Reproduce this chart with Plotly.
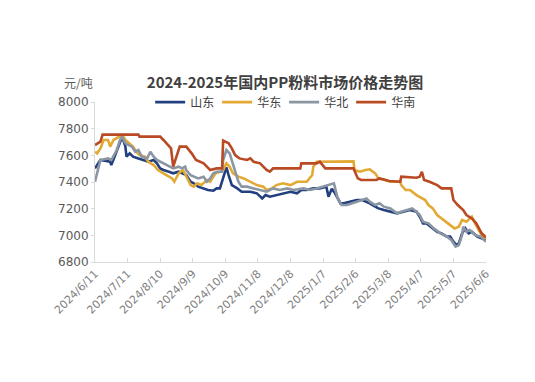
import pandas as pd
import plotly.graph_objects as go

base = pd.Timestamp("2024-06-11")

# day offsets since 2024-06-11 and prices (元/吨)
shandong_day = [0, 5, 14, 15, 18, 23, 25, 28, 29, 32, 35, 40, 45, 49, 54, 57, 60, 63, 68, 72, 77, 81, 84, 88, 91, 95,
                100, 104, 109, 112, 115, 118, 121, 123, 126, 131, 135, 143, 149, 154, 157, 161, 167, 173, 180, 186,
                190, 195, 201, 207, 213, 215, 218, 221, 226, 229, 235, 241, 246, 250, 253, 258, 261, 266, 272, 278,
                284, 290, 296, 299, 302, 305, 309, 315, 319, 324, 327, 330, 333, 335, 338, 341, 344, 347, 352, 356, 360]
shandong_val = [7502, 7565, 7552, 7527, 7590, 7690, 7740, 7665, 7590, 7615, 7590, 7577, 7565, 7552, 7565, 7540, 7502,
                7490, 7477, 7465, 7477, 7465, 7452, 7402, 7390, 7365, 7352, 7340, 7335, 7352, 7352, 7427, 7510, 7452,
                7377, 7352, 7327, 7327, 7315, 7277, 7302, 7290, 7302, 7315, 7327, 7315, 7340, 7340, 7352, 7352, 7365,
                7290, 7350, 7315, 7240, 7240, 7252, 7265, 7265, 7252, 7240, 7215, 7202, 7190, 7177, 7165, 7177, 7190,
                7177, 7140, 7090, 7090, 7065, 7027, 7015, 6990, 6990, 6952, 6927, 6940, 7015, 7052, 7015, 7027, 6990,
                6977, 6965]

huadong_day = [0, 2, 5, 8, 12, 14, 17, 22, 25, 28, 32, 35, 38, 41, 46, 49, 54, 58, 63, 68, 71, 73, 77, 81, 84, 88,
               91, 94, 98, 103, 106, 111, 115, 118, 121, 124, 127, 132, 137, 143, 149, 155, 158, 163, 167, 173, 180,
               186, 195, 200, 201, 204, 238, 239, 244, 249, 253, 258, 261, 267, 272, 281, 282, 286, 290, 296, 301,
               304, 307, 311, 315, 319, 324, 327, 331, 335, 338, 342, 347, 350, 353, 356, 360]
huadong_val = [7627, 7615, 7652, 7715, 7715, 7665, 7715, 7740, 7752, 7715, 7690, 7665, 7627, 7602, 7590, 7552, 7527,
               7490, 7465, 7440, 7427, 7402, 7465, 7490, 7440, 7377, 7365, 7390, 7377, 7415, 7402, 7465, 7477, 7490,
               7540, 7515, 7465, 7440, 7427, 7402, 7377, 7365, 7340, 7352, 7377, 7390, 7377, 7402, 7402, 7452, 7515,
               7552, 7555, 7490, 7477, 7490, 7495, 7465, 7427, 7415, 7402, 7402, 7377, 7340, 7340, 7302, 7277, 7265,
               7227, 7202, 7152, 7127, 7090, 7077, 7052, 7065, 7115, 7102, 7140, 7090, 7040, 7002, 6977]

huabei_day = [0, 2, 5, 12, 15, 20, 23, 25, 28, 31, 34, 37, 40, 43, 48, 51, 54, 57, 60, 65, 69, 72, 77, 80, 83, 84,
              88, 91, 95, 100, 103, 106, 109, 112, 117, 118, 121, 124, 127, 132, 135, 140, 146, 152, 158, 164, 170,
              177, 183, 192, 198, 204, 209, 213, 220, 223, 227, 232, 236, 241, 246, 250, 253, 258, 262, 266, 272,
              278, 282, 287, 292, 296, 299, 302, 307, 312, 318, 324, 328, 332, 335, 338, 339, 342, 345, 350, 355, 360]
huabei_val = [7402, 7477, 7565, 7577, 7565, 7640, 7715, 7740, 7690, 7677, 7665, 7627, 7640, 7590, 7577, 7627, 7590,
              7565, 7552, 7527, 7515, 7502, 7515, 7502, 7515, 7490, 7452, 7440, 7427, 7440, 7402, 7427, 7465, 7477,
              7477, 7565, 7640, 7615, 7540, 7402, 7365, 7365, 7352, 7340, 7327, 7352, 7340, 7352, 7340, 7352, 7340,
              7352, 7365, 7377, 7390, 7290, 7227, 7227, 7240, 7252, 7265, 7277, 7252, 7227, 7240, 7215, 7202, 7165,
              7177, 7190, 7202, 7177, 7152, 7102, 7090, 7052, 7015, 6990, 6965, 6915, 6927, 7002, 7065, 7027, 7040,
              7002, 6990, 6952]

huanan_day = [0, 5, 7, 40, 41, 60, 63, 67, 70, 72, 78, 84, 89, 93, 100, 103, 106, 112, 117, 118, 123, 126, 129, 133,
              140, 143, 146, 152, 158, 161, 164, 189, 190, 204, 207, 212, 238, 242, 245, 259, 262, 271, 281, 282, 296,
              299, 301, 303, 308, 315, 319, 328, 330, 334, 339, 342, 347, 351, 356, 360]
huanan_val = [7677, 7702, 7755, 7755, 7740, 7740, 7715, 7677, 7652, 7515, 7665, 7665, 7615, 7565, 7540, 7515, 7490,
              7502, 7502, 7710, 7690, 7652, 7602, 7577, 7565, 7577, 7552, 7540, 7490, 7477, 7502, 7502, 7540, 7540,
              7552, 7502, 7502, 7427, 7415, 7415, 7427, 7407, 7402, 7440, 7432, 7440, 7477, 7415, 7402, 7377, 7352,
              7352, 7265, 7227, 7190, 7152, 7127, 7090, 7015, 6985]

tick_labels = ["2024/6/11", "2024/7/11", "2024/8/10", "2024/9/9", "2024/10/9", "2024/11/8", "2024/12/8",
               "2025/1/7", "2025/2/6", "2025/3/8", "2025/4/7", "2025/5/7", "2025/6/6"]
y_ticks = [6800, 7000, 7200, 7400, 7600, 7800, 8000]

series = [
    ("山东", shandong_day, shandong_val, "#22407F"),
    ("华东", huadong_day, huadong_val, "#E2A935"),
    ("华北", huabei_day, huabei_val, "#8B96A4"),
    ("华南", huanan_day, huanan_val, "#BA4A23"),
]

fig = go.Figure()
for name, days, vals, color in series:
    dates = [base + pd.Timedelta(days=d) for d in days]
    fig.add_trace(go.Scatter(x=dates, y=vals, name=name, mode="lines",
                             line=dict(color=color, width=2.6)))

tick_vals = [pd.Timestamp(int(t.split("/")[0]), int(t.split("/")[1]), int(t.split("/")[2])) for t in tick_labels]

W, H = 519, 366
fig.update_layout(
    width=W, height=H,
    margin=dict(l=87, r=41, t=94, b=112, autoexpand=False),
    paper_bgcolor="white", plot_bgcolor="white",
    font=dict(family="Noto Sans CJK SC, Liberation Sans, sans-serif", color="#595959"),
    title=dict(text="<b>2024-2025年国内PP粉料市场价格走势图</b>", x=277 / W, xanchor="center",
               y=1 - 75 / H, yanchor="middle", yref="container",
               font=dict(size=15, color="#404040", family="Noto Sans CJK SC")),
    showlegend=True,
    legend=dict(orientation="h", x=0.141, xanchor="left", y=1.09, yanchor="top",
                font=dict(size=12, color="#404040"), bgcolor="rgba(0,0,0,0)",
                entrywidth=22, entrywidthmode="pixels", itemwidth=30, tracegroupgap=0),
    xaxis=dict(type="date", range=[tick_vals[0], tick_vals[-1]], tickvals=tick_vals, ticktext=tick_labels,
               tickangle=-45, showgrid=False, showline=True, linecolor="#D9D9D9", linewidth=1,
               ticks="inside", ticklen=4, tickcolor="#D9D9D9",
               tickfont=dict(size=11, color="#7F7F7F", family="DejaVu Sans")),
    yaxis=dict(range=[6800, 8000], tickvals=y_ticks, showgrid=False, showline=True, linecolor="#D9D9D9",
               linewidth=1, ticks="outside", ticklen=3, tickcolor="#D9D9D9", zeroline=False,
               tickfont=dict(size=12, color="#595959", family="DejaVu Sans")),
    annotations=[dict(text="元/吨", xref="paper", yref="paper", x=-0.085, y=1.119, xanchor="left",
                      yanchor="middle", showarrow=False, font=dict(size=12, color="#595959"))],
)

fig.write_html("out.html")
